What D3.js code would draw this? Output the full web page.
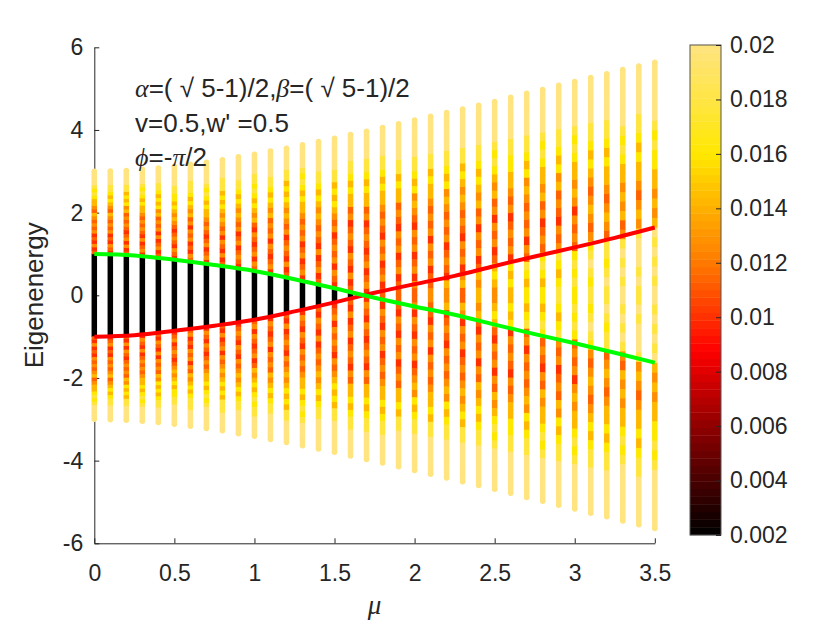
<!DOCTYPE html>
<html>
<head>
<meta charset="utf-8">
<style>
body { margin: 0; background: #fff; }
svg { display: block; font-family: "Liberation Sans", Arial, sans-serif; }
.axis path, .axis line { stroke: #262626; stroke-width: 1px; }
.axis text { fill: #262626; font-size: 23px; font-family: "Liberation Sans", Arial, sans-serif; }
.greek { font-family: "Liberation Serif", serif; font-style: italic; }
</style>
</head>
<body>
<svg width="830" height="623"></svg>
<script src="https://d3js.org/d3.v7.min.js"></script>
<script>

// ---- data ----
var muValues = [0, 0.1, 0.2, 0.3, 0.4, 0.5, 0.6, 0.7, 0.8, 0.9, 1.0, 1.1, 1.2, 1.3, 1.4, 1.5, 1.6, 1.7,
                1.8, 1.9, 2.0, 2.1, 2.2, 2.3, 2.4, 2.5, 2.6, 2.7, 2.8, 2.9, 3.0, 3.1, 3.2, 3.3, 3.4, 3.5];

// top of each column of eigenvalues (spectrum is symmetric)
var eMax = [3.00, 3.01, 3.02, 3.05, 3.08, 3.12, 3.17, 3.22, 3.28, 3.35, 3.41, 3.49, 3.56, 3.64, 3.72, 3.80, 3.89, 3.97,
            4.06, 4.15, 4.24, 4.33, 4.42, 4.51, 4.60, 4.69, 4.79, 4.89, 4.98, 5.08, 5.17, 5.27, 5.36, 5.46, 5.55, 5.64];

// half height of the black (extended) core, mu = 0 .. 1.6
var coreEdge = [1.00, 0.995, 0.98, 0.955, 0.92, 0.865, 0.815, 0.76, 0.705, 0.65, 0.59, 0.51, 0.43, 0.35, 0.26, 0.17, 0.08];

// colour level along the upper half of each column, from core edge (or 0) up to eMax
var profiles = [
  "435343545456456678789999", "345343545456456767889999", "435354345454657676889999",
  "354353454545667678789999", "435435354546576767889999", "345345434565676778899999",
  "453435453546567678889999", "354354345456676787899999", "435345354565676768889999",
  "345435435456567678899999", "453543453465676787889999", "354345354546567678899999",
  "435345435456567676889999", "354354354545667678789999", "435435345456567678899999",
  "345354543545676768899999", "435345345435466767889999", "354354345435466767889999",
  "435435453454566767889999", "443543545345466768899999", "453543545345657678899999",
  "544354535454566768899999", "563454354545657678899999", "465354534545656768899999",
  "656435453546567678899999", "567643545354656787899999", "676735454354566778899999",
  "767845354545657678899999", "767874543546566787899999", "876785453454657678899999",
  "787874545356566787899999", "878987545654567678899999", "898788456545667678899999",
  "989898546565667878999999", "898999856545667678899999", "989898965656677878999999"
];
// value of each level digit
var levelValues = [0.002, 0.007, 0.009, 0.0100, 0.0113, 0.0127, 0.0143, 0.016, 0.0178, 0.02];

// the two boundary curves
var lineMu = [0, 0.25, 0.5, 0.75, 1.0, 1.25, 1.5, 1.75, 2.0, 2.25, 2.5, 2.75, 3.0, 3.25, 3.5];
var greenE = [1.00, 0.965, 0.86, 0.735, 0.59, 0.39, 0.17, -0.06, -0.27, -0.47, -0.71, -0.94, -1.16, -1.39, -1.63];
var redE   = [-1.00, -0.965, -0.86, -0.735, -0.59, -0.39, -0.17, 0.06, 0.27, 0.47, 0.71, 0.94, 1.16, 1.39, 1.64];

var xTicks = [0, 0.5, 1, 1.5, 2, 2.5, 3, 3.5];
var yTicks = [-6, -4, -2, 0, 2, 4, 6];
var cbTicks = [0.002, 0.004, 0.006, 0.008, 0.01, 0.012, 0.014, 0.016, 0.018, 0.02];

var cmapValues = [0.002, 0.004, 0.006, 0.008, 0.0088, 0.010, 0.012, 0.014, 0.016, 0.018, 0.020];
var cmapColors = ["#000000", "#480000", "#900000", "#e00000", "#ff0000", "#ff3000",
                  "#ff7a00", "#ffb000", "#ffe800", "#ffe545", "#ffe480"];

// ---- drawing ----
var svg = d3.select('svg');

var x = d3.scaleLinear().domain([0, 3.5]).range([94.3, 654.8]);
var y = d3.scaleLinear().domain([-6, 6]).range([543.3, 47.3]);
var color = d3.scaleLinear().domain(cmapValues).range(cmapColors).clamp(true);

var xAxis = d3.axisBottom(x)
    .tickValues(xTicks)
    .tickFormat(function(d) { return String(d); })
    .tickSizeInner(-5).tickSizeOuter(0).tickPadding(21);
svg.append('g').attr('class', 'axis')
    .attr('transform', 'translate(0,' + y(-6) + ')')
    .call(xAxis);

var yAxis = d3.axisLeft(y)
    .tickValues(yTicks)
    .tickFormat(function(d) { return String(d); })
    .tickSizeInner(-5).tickSizeOuter(0).tickPadding(11);
svg.append('g').attr('class', 'axis')
    .attr('transform', 'translate(' + x(0) + ',0)')
    .call(yAxis);

// columns of eigenvalues
var colW = 5.5;
var segs = [], caps = [];
muValues.forEach(function(mu, i) {
  var s = i < coreEdge.length ? coreEdge[i] : 0;
  var prof = profiles[i], n = prof.length, step = (eMax[i] - s) / n;
  if (s > 0) segs.push({mu: mu, lo: -s, hi: s, v: levelValues[0]});
  for (var j = 0; j < n; j++) {
    var v = levelValues[+prof[j]];
    var a = s + j * step, b = s + (j + 1) * step;
    segs.push({mu: mu, lo: a, hi: b, v: v});
    segs.push({mu: mu, lo: -b, hi: -a, v: v});
  }
  var vt = levelValues[+prof[n - 1]];
  caps.push({mu: mu, e: eMax[i], v: vt});
  caps.push({mu: mu, e: -eMax[i], v: vt});
});

svg.append('g').selectAll('circle')
    .data(caps).enter().append('circle')
    .attr('cx', function(d) { return x(d.mu); })
    .attr('cy', function(d) { return y(d.e); })
    .attr('r', colW / 2)
    .attr('fill', function(d) { return color(d.v); });

svg.append('g').selectAll('rect')
    .data(segs).enter().append('rect')
    .attr('x', function(d) { return x(d.mu) - colW / 2; })
    .attr('y', function(d) { return y(d.hi) - 0.3; })
    .attr('width', colW)
    .attr('height', function(d) { return y(d.lo) - y(d.hi) + 0.6; })
    .attr('fill', function(d) { return color(d.v); });

// boundary curves
var line = d3.line()
    .x(function(d) { return x(d[0]); })
    .y(function(d) { return y(d[1]); })
    .curve(d3.curveMonotoneX);

svg.append('path')
    .attr('d', line(lineMu.map(function(m, i) { return [m, redE[i]]; })))
    .attr('fill', 'none').attr('stroke', '#ff0000').attr('stroke-width', 4);
svg.append('path')
    .attr('d', line(lineMu.map(function(m, i) { return [m, greenE[i]]; })))
    .attr('fill', 'none').attr('stroke', '#00ff00').attr('stroke-width', 4);

// axis labels
svg.append('text')
    .attr('transform', 'translate(43,' + y(0) + ') rotate(-90)')
    .attr('text-anchor', 'middle')
    .attr('fill', '#262626')
    .style('font-size', '26px')
    .text('Eigenenergy');

svg.append('text')
    .attr('class', 'greek')
    .attr('x', (x(0) + x(3.5)) / 2).attr('y', 614)
    .attr('text-anchor', 'middle')
    .attr('fill', '#262626')
    .style('font-size', '27px')
    .text('\u03bc');

// annotation
var ann = svg.append('g').attr('fill', '#262626').style('font-size', '26px');
var t1 = ann.append('text').attr('x', 135).attr('y', 97);
t1.append('tspan').attr('class', 'greek').text('\u03b1');
t1.append('tspan').text('=( \u221a 5-1)/2,');
t1.append('tspan').attr('class', 'greek').text('\u03b2');
t1.append('tspan').text('=( \u221a 5-1)/2');
ann.append('text').attr('x', 135).attr('y', 132).text("v=0.5,w' =0.5");
var t3 = ann.append('text').attr('x', 135).attr('y', 166);
t3.append('tspan').attr('class', 'greek').text('\u03d5');
t3.append('tspan').text('=-');
t3.append('tspan').attr('class', 'greek').text('\u03c0');
t3.append('tspan').text('/2');

// colour bar
var cbX = 690, cbW = 31;
var yc = d3.scaleLinear().domain([0.002, 0.02]).range([535, 45]);
var cbSteps = d3.range(64);
var dv = (0.02 - 0.002) / 64;
svg.append('g').selectAll('rect')
    .data(cbSteps).enter().append('rect')
    .attr('x', cbX).attr('width', cbW)
    .attr('y', function(k) { return yc(0.002 + (k + 1) * dv) - 0.2; })
    .attr('height', function(k) { return yc(0.002 + k * dv) - yc(0.002 + (k + 1) * dv) + 0.4; })
    .attr('fill', function(k) { return color(0.002 + (k + 0.5) * dv); });
svg.append('rect')
    .attr('x', cbX).attr('y', yc(0.02)).attr('width', cbW).attr('height', yc(0.002) - yc(0.02))
    .attr('fill', 'none').attr('stroke', '#555').attr('stroke-width', 1);

var cbAxis = d3.axisRight(yc)
    .tickValues(cbTicks)
    .tickFormat(function(d) { return String(+d.toFixed(3)); })
    .tickSizeInner(-5).tickSizeOuter(0).tickPadding(9);
var cbg = svg.append('g').attr('class', 'axis')
    .attr('transform', 'translate(' + (cbX + cbW) + ',0)')
    .call(cbAxis);
cbg.select('.domain').remove();

</script>
</body>
</html>
